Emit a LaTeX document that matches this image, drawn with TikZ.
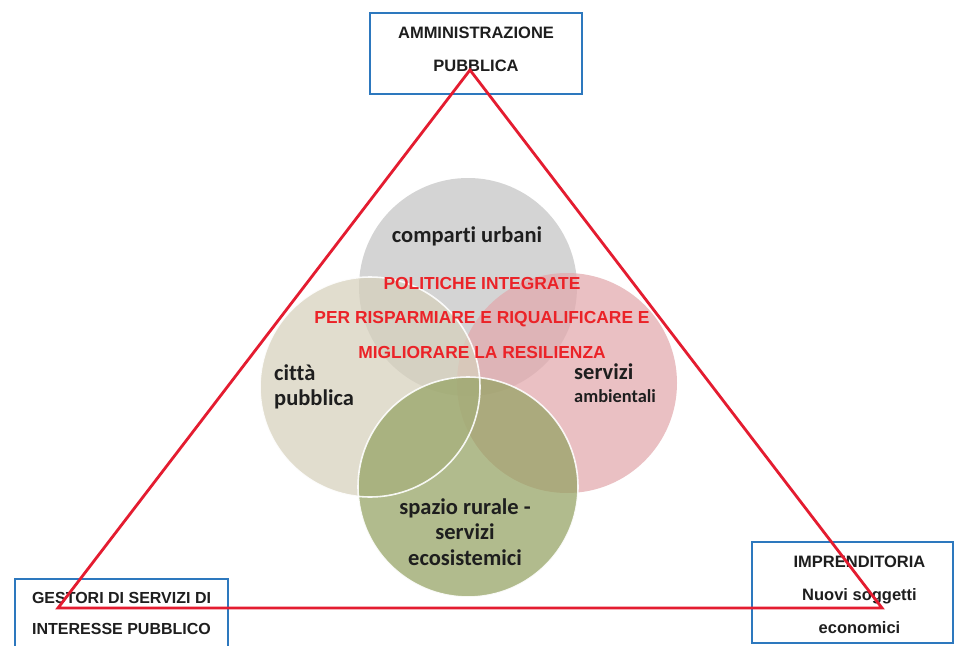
\documentclass[tikz,border=0pt]{standalone}
\usepackage{fontspec}
\setmainfont{Liberation Sans}
\newfontfamily\labelfont{Liberation Sans}
\newfontfamily\circlefont[Ligatures={NoCommon}]{Carlito}
\definecolor{boxblue}{RGB}{45,120,190}
\definecolor{trired}{RGB}{228,28,48}
\definecolor{textdark}{RGB}{30,30,30}
\definecolor{polred}{RGB}{235,35,40}
\definecolor{cgrey}{RGB}{196,196,196}
\definecolor{cbeige}{RGB}{214,208,188}
\definecolor{cpink}{RGB}{226,168,172}
\definecolor{cgreen}{RGB}{148,162,98}
\begin{document}
\begin{tikzpicture}[x=1pt,y=-1pt,
  actorbox/.style={draw=boxblue, line width=1.8pt, fill=white, inner sep=0pt},
  actortext/.style={font=\labelfont\bfseries\fontsize{16.5}{33}\selectfont, text=textdark, align=center, inner sep=0pt},
  area/.style={fill opacity=0.72},
  areatext/.style={font=\circlefont\bfseries\fontsize{22.5}{25.5}\selectfont, text=textdark, inner sep=0pt},
  policytext/.style={font=\labelfont\bfseries\fontsize{17.4}{34.5}\selectfont, text=polred, align=center, inner sep=0pt},
  rim/.style={draw=white, draw opacity=0.9, line width=1.6pt},
  side/.style={draw=trired, line width=2.8pt, line join=miter}]
\useasboundingbox (0,0) rectangle (955,645);
\clip (0,0) rectangle (955,645);
\fill[white] (0,0) rectangle (955,645);

% overlapping policy areas
\fill[area, fill=cgrey]  (468,287) circle (109);
\fill[area, fill=cpink]  (567,383) circle (110);
\fill[area, fill=cbeige] (370,387) circle (110);
\fill[area, fill=cgreen] (468,487) circle (110);
\draw[rim] (370,387) circle (110);
\draw[rim] (468,487) circle (110);

\node[areatext] (urb) at (467,236) {comparti urbani};
\node[areatext, anchor=west, align=left] (cit) at (274,387) {città\\pubblica};
\node[areatext, anchor=west, align=left] (amb) at (574,383)
  {servizi\\[-3pt]{\fontsize{18.4}{20}\selectfont ambientali}};
\node[areatext, align=center] (rur) at (465,532) {spazio rurale -\\servizi\\ecosistemici};

\node[policytext] (pol) at (482,318)
  {POLITICHE INTEGRATE\\PER RISPARMIARE E RIQUALIFICARE E\\MIGLIORARE LA RESILIENZA};

% actor boxes
\node[actorbox, minimum width=212pt, minimum height=81pt] (pa) at (476,53.5) {};
\node[actortext] (pat) at (476,49) {AMMINISTRAZIONE\\PUBBLICA};
\node[actorbox, minimum width=213pt, minimum height=90pt] (ge) at (121.5,624) {};
\node[actortext, font=\labelfont\bfseries\fontsize{16}{31}\selectfont] (get) at (121.5,613.5) {GESTORI DI SERVIZI DI\\INTERESSE PUBBLICO};
\node[actorbox, minimum width=201pt, minimum height=101pt] (im) at (852.5,592.5) {};
\node[actortext] (imt) at (859.5,595) {IMPRENDITORIA\\Nuovi soggetti\\economici};

% the triangle linking the three actors
\coordinate (apex) at (470,70);
\coordinate (left) at (58,608);
\coordinate (right) at (882,608);
\draw[side] (apex) -- (left) -- (right) -- cycle;
\end{tikzpicture}
\end{document}
